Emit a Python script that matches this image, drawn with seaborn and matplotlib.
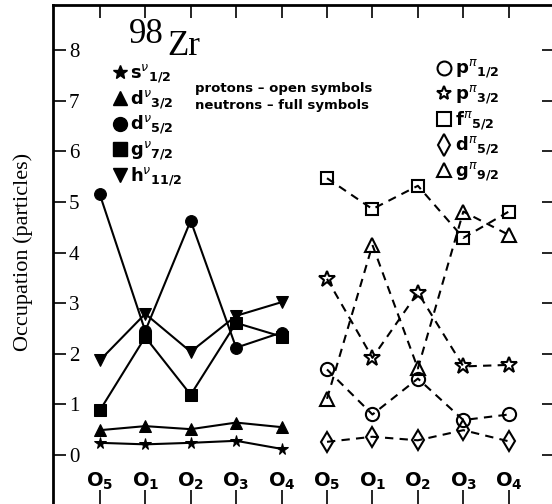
import numpy as np
import pandas as pd
import seaborn as sns
import matplotlib
matplotlib.use("Agg")
import matplotlib.pyplot as plt
from matplotlib.lines import Line2D

# ---------------- data ----------------
configs = ["5", "1", "2", "3", "4"]
x_neutron = [1, 2, 3, 4, 5]
x_proton = [6, 7, 8, 9, 10]

# neutrons (full symbols)
n_s12 = [0.24, 0.21, 0.24, 0.28, 0.12]
n_d32 = [0.49, 0.57, 0.51, 0.64, 0.55]
n_d52 = [5.15, 2.45, 4.63, 2.12, 2.42]
n_g72 = [0.88, 2.33, 1.19, 2.61, 2.34]
n_h112 = [1.87, 2.79, 2.04, 2.75, 3.02]

# protons (open symbols)
p_p12 = [1.69, 0.80, 1.51, 0.69, 0.80]
p_p32 = [3.48, 1.92, 3.21, 1.75, 1.78]
p_f52 = [5.47, 4.86, 5.32, 4.29, 4.81]
p_d52 = [0.26, 0.36, 0.29, 0.49, 0.27]
p_g92 = [1.11, 4.15, 1.71, 4.81, 4.35]

yticks = [0, 1, 2, 3, 4, 5, 6, 7, 8]

sns.set_style("ticks")
plt.rcParams["mathtext.fontset"] = "dejavusans"
plt.rcParams["font.family"] = ["DejaVu Sans"]
for k in ("text.color", "axes.labelcolor", "xtick.color", "ytick.color", "axes.edgecolor"):
    plt.rcParams[k] = "black"

fig = plt.figure(figsize=(5.52, 5.04), dpi=100)
ax = fig.add_axes([0.096, -0.0232, 0.908, 1.013])

neutrons = [
    (n_s12, "*", 8.5, r"$\mathbf{s}^{\nu}{}_{\mathbf{1/2}}$"),
    (n_d32, "^", 8.5, r"$\mathbf{d}^{\nu}{}_{\mathbf{3/2}}$"),
    (n_d52, "o", 8.5, r"$\mathbf{d}^{\nu}{}_{\mathbf{5/2}}$"),
    (n_g72, "s", 8.5, r"$\mathbf{g}^{\nu}{}_{\mathbf{7/2}}$"),
    (n_h112, "v", 8.5, r"$\mathbf{h}^{\nu}{}_{\mathbf{11/2}}$"),
]
protons = [
    (p_p12, "o", 9.5, r"$\mathbf{p}^{\pi}{}_{\mathbf{1/2}}$"),
    (p_p32, "*", 12, r"$\mathbf{p}^{\pi}{}_{\mathbf{3/2}}$"),
    (p_f52, "s", 8.5, r"$\mathbf{f}^{\pi}{}_{\mathbf{5/2}}$"),
    (p_d52, "d", 10, r"$\mathbf{d}^{\pi}{}_{\mathbf{5/2}}$"),
    (p_g92, "^", 10, r"$\mathbf{g}^{\pi}{}_{\mathbf{9/2}}$"),
]

for vals, m, ms, lab in neutrons:
    sns.lineplot(x=x_neutron, y=vals, ax=ax, color="black", linewidth=1.5,
                 marker=m, markersize=ms, markerfacecolor="black",
                 markeredgecolor="black", legend=False)

for vals, m, ms, lab in protons:
    sns.lineplot(x=x_proton, y=vals, ax=ax, color="black", linewidth=1.5,
                 linestyle=(0, (4, 3)), marker=m, markersize=ms,
                 markerfacecolor="none", markeredgecolor="black",
                 markeredgewidth=1.5, legend=False)

ax.set_xlim(-0.03, 11.0)
ax.set_ylim(-1.2, 8.89)

# ticks
ax.set_yticks(yticks)
ax.set_yticklabels([str(v) for v in yticks], family="Liberation Serif", fontsize=15)
ax.tick_params(axis="y", which="both", direction="in", left=True, right=True,
               length=9, width=1.2, pad=-11.5, colors="black")
for lbl in ax.get_yticklabels():
    lbl.set_horizontalalignment("left")

ax.set_xticks(x_neutron + x_proton)
ax.set_xticklabels([])
ax.tick_params(axis="x", which="both", direction="in", top=True, bottom=True,
               length=19, width=1.2, colors="black")
for t in ax.xaxis.get_major_ticks():
    t.tick2line.set_markersize(9)

for sp in ax.spines.values():
    sp.set_linewidth(2)
    sp.set_visible(True)

# configuration labels
for xs in (x_neutron, x_proton):
    for xv, c in zip(xs, configs):
        ax.text(xv, -0.63, r"$\mathbf{O}_{\mathbf{" + c + "}}$", ha="center",
                va="baseline", fontsize=14)

ax.set_ylabel("")
fig.text(23 / 552, 1 - 252 / 504, "Occupation (particles)", rotation=90,
         ha="center", va="center", family="Liberation Serif", fontsize=16)

# title 98Zr
fig.text(129 / 552, 1 - 43 / 504, "98", family="Liberation Serif", fontsize=25,
         ha="left", va="baseline")
fig.text(167 / 552, 1 - 55 / 504, "Zr", family="Liberation Serif", fontsize=25,
         ha="left", va="baseline")

# legends
hn = [Line2D([], [], color="black", linestyle="none", marker=m, markersize=10,
             markerfacecolor="black") for _, m, _, _ in neutrons]
ln = [lab for *_, lab in neutrons]
leg1 = ax.legend(hn, ln, loc="upper left", bbox_to_anchor=(0.104, 0.902),
                 frameon=False, fontsize=13, handlelength=0.8,
                 handletextpad=0.2, labelspacing=0.17, borderaxespad=0)
ax.add_artist(leg1)
hp = [Line2D([], [], color="black", linestyle="none", marker=m,
             markersize=(10 if m != "d" else 11), markerfacecolor="none",
             markeredgewidth=1.5) for _, m, _, _ in protons]
lp = [lab for *_, lab in protons]
ax.legend(hp, lp, loc="upper left", bbox_to_anchor=(0.751, 0.911),
          frameon=False, fontsize=13, handlelength=0.8, handletextpad=0.2,
          labelspacing=0.17, borderaxespad=0)

fig.text(195 / 552, 1 - 92 / 504, "protons \u2013 open symbols", fontsize=9.5,
         fontweight="bold", ha="left", va="baseline")
fig.text(195 / 552, 1 - 109 / 504, "neutrons \u2013 full symbols", fontsize=9.5,
         fontweight="bold", ha="left", va="baseline")

fig.savefig("out.png", dpi=100)
